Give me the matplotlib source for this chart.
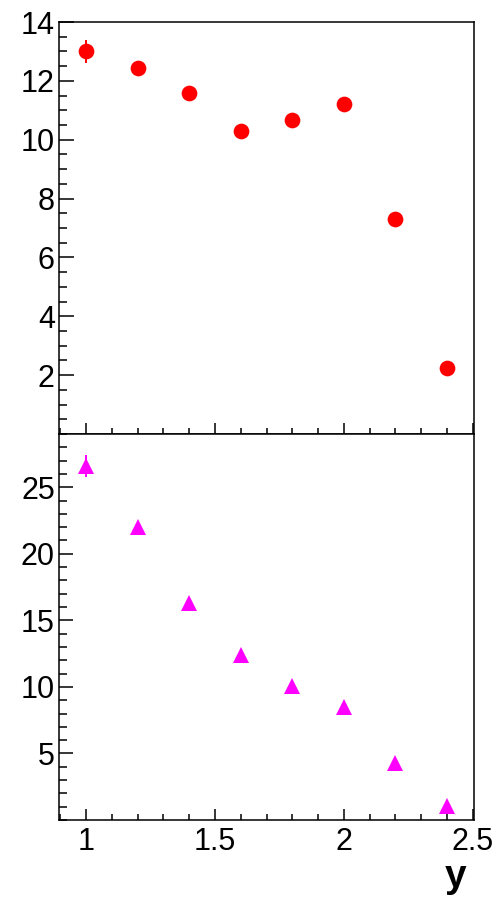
import matplotlib
matplotlib.use("Agg")
from matplotlib import pyplot as plt
from matplotlib.ticker import MultipleLocator, FixedLocator
import numpy as np

# rapidity bins
y_bins = [1.0, 1.2, 1.4, 1.6, 1.8, 2.0, 2.2, 2.4]

# upper panel (red circles)
top_vals = [13.0, 12.45, 11.58, 10.28, 10.68, 11.20, 7.29, 2.23]
top_errs = [0.39, 0.12, 0.10, 0.10, 0.10, 0.10, 0.10, 0.08]

# lower panel (magenta triangles)
low_vals = [26.6, 22.0, 16.27, 12.36, 10.03, 8.47, 4.25, 1.02]
low_errs = [0.82, 0.30, 0.20, 0.20, 0.15, 0.15, 0.12, 0.10]

top_ticks = [2, 4, 6, 8, 10, 12, 14]
low_ticks = [5, 10, 15, 20, 25]
x_ticks = [1, 1.5, 2, 2.5]
x_labels = ["1", "1.5", "2", "2.5"]

plt.rcParams['font.family'] = ['Liberation Sans', 'DejaVu Sans']

W, H = 498, 899
fig = plt.figure(figsize=(W / 100., H / 100.), dpi=100)

left, right = 59. / W, 474. / W
ax_top = fig.add_axes([left, 1 - 434. / H, right - left, (434. - 22.) / H])
ax_low = fig.add_axes([left, 1 - 820. / H, right - left, (820. - 434.) / H])

"""
draw the points
"""
ax_top.errorbar(y_bins, top_vals, yerr=top_errs, fmt='o', color='#ff0000',
                ms=11.3, mew=0, elinewidth=1.4, capsize=1.5, capthick=1.4)
ax_low.errorbar(y_bins, low_vals, yerr=low_errs, fmt='^', color='#ff00ff',
                ms=11.0, mew=0, elinewidth=1.4, capsize=1.5, capthick=1.4)

"""
axes ranges and ticks, ROOT-like style
"""
for ax in (ax_top, ax_low):
    ax.set_xlim(0.895, 2.505)
    ax.xaxis.set_major_locator(FixedLocator(x_ticks))
    ax.xaxis.set_minor_locator(MultipleLocator(0.1))
    for s in ax.spines.values():
        s.set_linewidth(1.1)
    ax.tick_params(which='both', direction='in', top=False, right=False,
                   width=1.1, labelsize=22, pad=3)
    ax.tick_params(axis='x', which='major', length=8)
    ax.tick_params(axis='x', which='minor', length=4)

ax_top.set_ylim(0, 14)
ax_top.yaxis.set_major_locator(FixedLocator(top_ticks))
ax_top.yaxis.set_minor_locator(MultipleLocator(0.5))
ax_top.tick_params(axis='y', which='major', length=11)
ax_top.tick_params(axis='y', which='minor', length=5.5)
ax_top.tick_params(axis='x', labelbottom=False)

ax_low.set_ylim(0, 29)
ax_low.yaxis.set_major_locator(FixedLocator(low_ticks))
ax_low.yaxis.set_minor_locator(MultipleLocator(1))
ax_low.tick_params(axis='y', which='major', length=10)
ax_low.tick_params(axis='y', which='minor', length=5.5)
ax_low.set_xticklabels(x_labels)
ax_low.tick_params(axis='x', pad=5)

fig.text(466. / W, 1 - 887. / H, 'y', ha='right', va='baseline',
         fontsize=28, fontweight='bold')

fig.savefig('out.png', dpi=100)
